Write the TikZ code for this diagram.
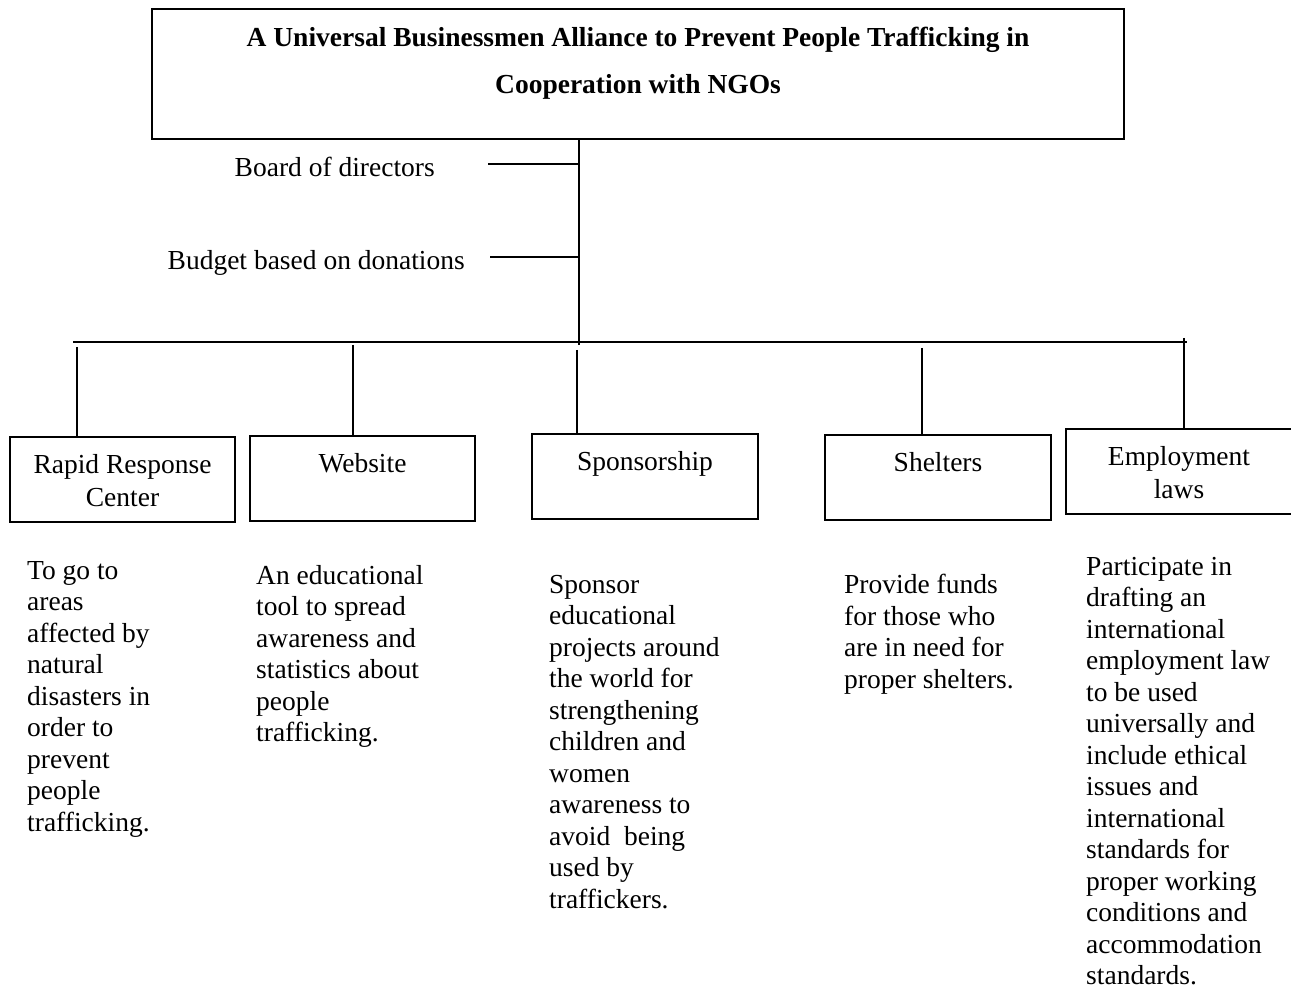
\documentclass[tikz,border=0pt]{standalone}
\usepackage{fontspec}
\setmainfont{Liberation Serif}
\usetikzlibrary{positioning}
\tikzstyle{hbox}=[rectangle, draw=black, line width=1.8pt, outer sep=0pt, inner sep=0pt,
                  minimum width=972pt, minimum height=130pt]
\tikzstyle{ubox}=[rectangle, draw=black, line width=1.8pt, outer sep=0pt, inner sep=0pt,
                  minimum width=225pt, minimum height=85pt]
\tikzstyle{htext}=[inner sep=0pt, align=center, font=\fontsize{27.5}{47}\selectfont\bfseries]
\tikzstyle{utext}=[inner sep=0pt, align=center, font=\fontsize{27.5}{33}\selectfont]
\tikzstyle{dtext}=[inner sep=0pt, align=left, font=\fontsize{27.5}{31.5}\selectfont]
\tikzstyle{pline}=[-, line width=1.8pt]

\begin{document}
\begin{tikzpicture}[x=1pt, y=-1pt, node distance=0mm]
\useasboundingbox (0,0) rectangle (1291,992);

% alliance header
\node (UBA) [hbox, anchor=north west] at (152,9) {};
\node (UBAtxt) [htext, below=18pt of UBA.north] {A Universal Businessmen Alliance to Prevent People Trafficking in\\
Cooperation with NGOs};

\coordinate (hub) at (579,345);
\coordinate (busL) at (73,342);
\coordinate (busR) at (1187,342);
\draw[pline] (UBA.south -| hub) -- (hub);
\draw[pline] (busL) -- (busR);

\node (BOD) [utext, anchor=base east] at (435,177) {Board of directors};
\coordinate (BODend) at (488,164);
\draw[pline] (BODend) -- (BODend -| hub);

\node (BUD) [utext, anchor=base east] at (465,270) {Budget based on donations};
\coordinate (BUDend) at (490,257);
\draw[pline] (BUDend) -- (BUDend -| hub);

% units
\node (RRC) [ubox, anchor=north west] at (10,437) {};
\node (RRCtxt) [utext, below=17pt of RRC.north] {Rapid Response\\Center};
\node (RRCdesc) [dtext, below=39pt of RRC.south west, anchor=north west, xshift=17pt] {To go to\\areas\\affected by\\natural\\disasters in\\order to\\prevent\\people\\trafficking.};

\node (WEB) [ubox, right=15pt of RRC.north east, anchor=north west, yshift=1pt] {};
\node (WEBtxt) [utext, below=17pt of WEB.north] {Website};
\node (WEBdesc) [dtext, below=44pt of WEB.south west, anchor=north west, xshift=6pt] {An educational\\tool to spread\\awareness and\\statistics about\\people\\trafficking.};

\node (SPON) [ubox, minimum width=226pt, right=57pt of WEB.north east, anchor=north west, yshift=2pt] {};
\node (SPONtxt) [utext, below=17pt of SPON.north] {Sponsorship};
\node (SPONdesc) [dtext, below=56pt of SPON.south west, anchor=north west, xshift=17pt] {Sponsor\\educational\\projects around\\the world for\\strengthening\\children and\\women\\awareness to\\avoid~ being\\used by\\traffickers.};

\node (SHLT) [ubox, minimum width=226pt, right=67pt of SPON.north east, anchor=north west, yshift=-1pt] {};
\node (SHLTtxt) [utext, below=17pt of SHLT.north] {Shelters};
\node (SHLTdesc) [dtext, below=54pt of SHLT.south west, anchor=north west, xshift=19pt] {Provide funds\\for those who\\are in need for\\proper shelters.};

\node (EMPL) [ubox, minimum width=230pt, right=15pt of SHLT.north east, anchor=north west, yshift=6pt] {};
\node (EMPLtxt) [utext, below=17pt of EMPL.north, xshift=-2pt] {Employment\\laws};
\node (EMPLdesc) [dtext, below=43pt of EMPL.south west, anchor=north west, xshift=20pt] {Participate in\\drafting an\\international\\employment law\\to be used\\universally and\\include ethical\\issues and\\international\\standards for\\proper working\\conditions and\\accommodation\\standards.};

% drops from the bus
\coordinate (RRCdrop) at (77,347);
\draw[pline] (RRCdrop) -- (RRCdrop |- RRC.north);
\coordinate (WEBdrop) at (353,345);
\draw[pline] (WEBdrop) -- (WEBdrop |- WEB.north);
\coordinate (SPONdrop) at (577,350);
\draw[pline] (SPONdrop) -- (SPONdrop |- SPON.north);
\coordinate (SHLTdrop) at (922,348);
\draw[pline] (SHLTdrop) -- (SHLTdrop |- SHLT.north);
\coordinate (EMPLdrop) at (1184,338);
\draw[pline] (EMPLdrop) -- (EMPLdrop |- EMPL.north);

\end{tikzpicture}
\end{document}
